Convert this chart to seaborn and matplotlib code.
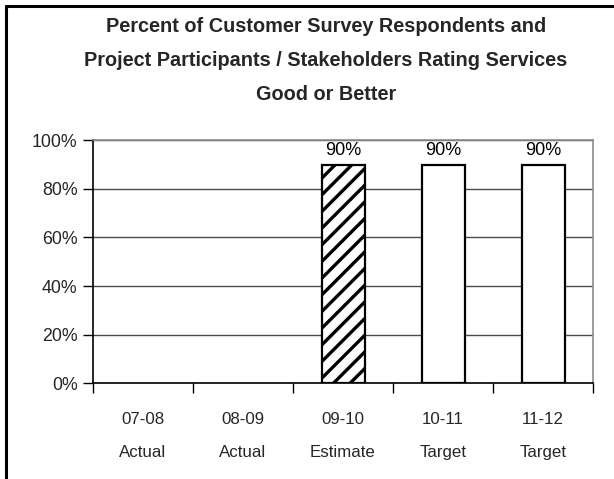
import numpy as np
import pandas as pd
import matplotlib
matplotlib.use("Agg")
import matplotlib.pyplot as plt
import seaborn as sns
from matplotlib.ticker import FixedLocator, PercentFormatter

# Fiscal years, status of each year, and share rating services good or better
years = ["07-08", "08-09", "09-10", "10-11", "11-12"]
status = ["Actual", "Actual", "Estimate", "Target", "Target"]
share = [np.nan, np.nan, 0.90, 0.90, 0.90]

title = ("Percent of Customer Survey Respondents and\n"
         "Project Participants / Stakeholders Rating Services\n"
         "Good or Better")

sns.set_theme(style="white")
plt.rcParams["font.family"] = ["Liberation Sans", "DejaVu Sans"]
plt.rcParams["hatch.linewidth"] = 2.4
plt.rcParams["hatch.color"] = "black"

df = pd.DataFrame({"year": years, "share": share})

fig = plt.figure(figsize=(6.14, 4.79), dpi=100)
ax = fig.add_axes([0.1515, 0.2004, 0.8143, 0.5063])

sns.barplot(data=df, x="year", y="share", order=years, ax=ax,
            color="white", edgecolor="black", linewidth=1.6,
            width=0.43, saturation=1)

# Estimated year is shown with diagonal hatching
drawn = [y for y, v in zip(years, share) if not np.isnan(v)]
for name, patch in zip(drawn, ax.patches):
    if status[years.index(name)] == "Estimate":
        patch.set_hatch("//")

# Value labels above the bars
for i, v in enumerate(share):
    if not np.isnan(v):
        ax.annotate(f"{v:.0%}", (i, v), xytext=(0, 4), textcoords="offset points",
                    ha="center", va="bottom", fontsize=13, color="black")

ax.set_xlim(-0.5, len(years) - 0.5)
ax.set_ylim(0, 1.0)
ax.yaxis.set_major_locator(FixedLocator([0, 0.2, 0.4, 0.6, 0.8, 1.0]))
ax.yaxis.set_major_formatter(PercentFormatter(1.0, decimals=0))
ax.grid(axis="y", color="#4a4a4a", linewidth=1.0)
ax.set_axisbelow(True)

# Boundary ticks between categories, labels centred on each category
ax.set_xticks(list(np.arange(len(years) + 1) - 0.5))
ax.set_xticklabels([])
ax.tick_params(axis="x", which="major", length=7, width=1, color="black",
               direction="out", bottom=True)
ax.set_xticks(np.arange(len(years)), minor=True)
ax.tick_params(axis="x", which="minor", length=0, pad=21, labelsize=12.2)
ax.set_xticklabels([f"{y}\n{s}" for y, s in zip(years, status)], minor=True)
for lbl in ax.get_xticklabels(minor=True):
    lbl.set_linespacing(2.45)
ax.tick_params(axis="y", length=7, width=1, color="black", direction="out",
               left=True, labelsize=12.8, pad=4)
ax.set_xlabel("")
ax.set_ylabel("")

for side in ["left", "bottom"]:
    ax.spines[side].set_color("black")
    ax.spines[side].set_linewidth(1.2)
for side in ["top", "right"]:
    ax.spines[side].set_color("#8c8c8c")
    ax.spines[side].set_linewidth(1.2)

fig.text(0.531, 0.964, title, ha="center", va="top", fontsize=14.3,
         fontweight="bold", linespacing=2.0)

# Frame lines along the top and left edges of the figure
fig.add_artist(plt.Line2D([0.0095, 1.0], [0.9875, 0.9875], color="black",
                          linewidth=2.2, transform=fig.transFigure))
fig.add_artist(plt.Line2D([0.0095, 0.0095], [0.0, 0.9875], color="black",
                          linewidth=2.2, transform=fig.transFigure))

fig.savefig("out.png", dpi=100, facecolor="white")
